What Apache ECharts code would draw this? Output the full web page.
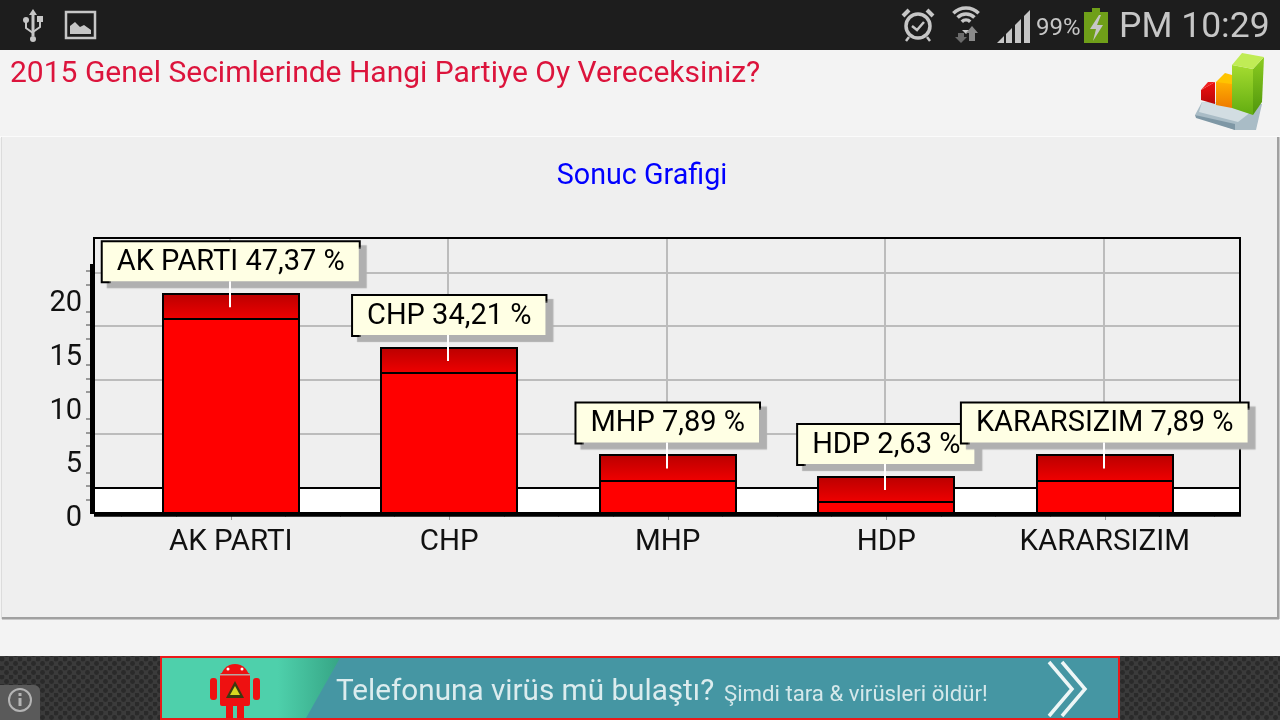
<!DOCTYPE html>
<html><head><meta charset="utf-8">
<style>html,body{margin:0;padding:0;background:#f3f3f3;overflow:hidden}#c{width:1280px;height:720px}</style>
<script src="https://cdn.jsdelivr.net/npm/echarts@6/dist/echarts.min.js"></script>
</head><body><div id="c"></div>
<script>
const categories = ['AK PARTI','CHP','MHP','HDP','KARARSIZIM'];
const votes = [18,13,3,1,3];
const capHeights = [2.35,2.35,2.35,2.35,2.35];
const percentLabels = ['47,37','34,21','7,89','2,63','7,89'];
const yTickLabels = [0,5,10,15,20];
const yMinorTicks = [1.25,2.5,3.75,6.25,7.5,8.75,11.25,12.5,13.75,16.25,17.5,18.75,21.25,22.5];
const xMinorTicks = [-0.5,-0.25,0.25,0.5,0.75,1.25,1.5,1.75,2.25,2.5,2.75,3.25,3.5,3.75,4.25,4.5];
const wallGridValues = [7.35,12.35,17.35,22.35];
const floorTop = 2.33;
const yMax = 25.58;
const FONT = 'Roboto';

const chart = echarts.init(document.getElementById('c'), null, {renderer:'canvas', width:1280, height:720});

const tile = document.createElement('canvas'); tile.width = 9; tile.height = 9;
const tc = tile.getContext('2d');
tc.fillStyle = '#3b3b3b'; tc.fillRect(0,0,9,9);
tc.fillStyle = '#2a2a2a';
tc.beginPath(); tc.arc(2,2,2.4,0,7); tc.fill();
tc.beginPath(); tc.arc(6.5,6.5,2.4,0,7); tc.fill();

const G = '#c6c6c6';
function vgrad(a,b){ return {type:'linear',x:0,y:0,x2:0,y2:1,colorStops:[{offset:0,color:a},{offset:1,color:b}]}; }
function poly(points, fill, z){ return {type:'polygon', shape:{points}, style:{fill}, z:z||-5, silent:true}; }
function rect(x,y,width,height,fill,z){ return {type:'rect', shape:{x,y,width,height}, style:{fill}, z:z||-5, silent:true}; }
function txt(x,y,text,size,fill,extra){ return {type:'text', x, y, z:-4, silent:true, style:Object.assign({text, fill, fontFamily:FONT, fontSize:size, textVerticalAlign:'middle', verticalAlign:'middle'}, extra||{})}; }
function line(points, stroke, w){ return {type:'polyline', shape:{points}, style:{stroke, lineWidth:w, fill:'none'}, z:-4, silent:true}; }
function circle(cx,cy,r,fill,stroke,w){ return {type:'circle', shape:{cx,cy,r}, style:{fill:fill||'none', stroke:stroke||'none', lineWidth:w||0}, z:-4, silent:true}; }
function arc(cx,cy,r,a,b,w,stroke){ return {type:'arc', shape:{cx,cy,r,startAngle:a,endAngle:b}, style:{stroke:stroke||G,lineWidth:w,fill:'none'}, z:-4, silent:true}; }

const graphics = [
  rect(0,0,1280,720,'#f3f3f3',-20),
  rect(0,0,1280,50,'#1d1d1d',-10),
  // panel
  rect(0,136,1280,2,'#fbfbfb',-10),
  rect(1,137,1278,482,'#dcdcdc',-9),
  rect(2,617,1277,2.5,'#a0a0a0',-7),
  rect(1277,137,2.5,482,'#a0a0a0',-7),
  rect(2,137,1275,480,'#efefef',-8),
  // USB icon
  line([[33,14],[33,36]],G,3),
  line([[26,21],[26,28],[33,33]],G,2),
  line([[40,20],[40,27],[33,32]],G,2),
  poly([[33,9],[29,15],[37,15]],G),
  circle(26,20,3,G), rect(37,16,6,6,G), circle(33,39,3,G),
  // image icon
  {type:'rect', shape:{x:66,y:12,width:29,height:26}, style:{fill:'none',stroke:G,lineWidth:2.5}, z:-4, silent:true},
  poly([[70,34],[70,26],[75,22],[80,27],[84,25],[91,30],[91,34]],G),
  // alarm
  circle(918,26,12,'none',G,3.5),
  line([[912,26],[917,30],[924,22]],G,2.5),
  line([[903,16],[909,10]],G,4), line([[933,16],[927,10]],G,4),
  line([[909,37],[906,41]],G,2.5), line([[927,37],[930,41]],G,2.5),
  // wifi
  arc(966,26,18,-2.35,-0.79,3.5), arc(966,26,12,-2.35,-0.79,3.5), arc(966,26,6,-2.35,-0.79,3.5),
  poly([[962,30],[970,30],[966,34]],G),
  rect(958,33,6,6,'#6a6a6a'), poly([[955,37],[967,37],[961,43]],'#6a6a6a'),
  rect(969,32,6,9,'#8a8a8a'), poly([[966,33],[978,33],[972,26]],'#8a8a8a'),
  // signal
  poly([[997,43],[1004,43],[1004,36]],G),
  poly([[1006,34],[1012,28],[1012,43],[1006,43]],G),
  poly([[1015,25],[1021,19],[1021,43],[1015,43]],G),
  poly([[1024,16],[1030,10],[1030,43],[1024,43]],G),
  txt(1036,29,'99%',24,G),
  // battery
  rect(1092,8,8,5,'#6f9f19'), rect(1084,12,24,31,'#6f9f19'),
  poly([[1099,15],[1090,29],[1096,29],[1093,41],[1103,25],[1097,25],[1101,15]],G),
  txt(1119,28,'PM 10:29',35.5,G),
  // header
  txt(10,74,'2015 Genel Secimlerinde Hangi Partiye Oy Vereceksiniz?',30,'#dc143c'),
  // app icon
  poly([[1202,102],[1262,104],[1256,130],[1235,130],[1195,115]],'#a9bcc6'),
  poly([[1195,115],[1235,124],[1235,130],[1196,118]],'#7e97a5'),
  poly([[1202,102],[1260,105],[1238,122],[1199,112]],'#d2dde2'),
  poly([[1201,90],[1215,82],[1215,104],[1201,100]],vgrad('#f01010','#b80808')),
  poly([[1201,90],[1208,82],[1215,82]],'#f02020'),
  poly([[1216,82],[1232,82],[1232,108],[1216,105]],vgrad('#ffb000','#ee7a00')),
  poly([[1216,82],[1225,73],[1232,75],[1232,84]],'#ffc400'),
  poly([[1232,65],[1253,69],[1253,115],[1232,108]],vgrad('#a5dc30','#62ac10')),
  poly([[1253,69],[1264,57],[1262,102],[1253,115]],vgrad('#8ccc20','#4f960c')),
  poly([[1232,65],[1242,53],[1264,57],[1253,69]],'#c0ec55'),
  // bottom bar
  {type:'rect', shape:{x:0,y:656,width:1280,height:64}, style:{fill:{image:tile, repeat:'repeat'}}, z:-10, silent:true},
  {type:'rect', shape:{x:-8,y:685,width:48,height:43,r:6}, style:{fill:'#5a5a5a'}, z:-5, silent:true},
  circle(20,700,11,'none','#b4b4b4',2),
  rect(18.5,698,3,8,'#b4b4b4'), rect(18.5,693,3,3,'#b4b4b4'),
  // banner
  rect(160,656,960,64,'#ea1a1a',-6),
  rect(162,658,956,60,'#4596a3',-5),
  {type:'polygon', shape:{points:[[162,658],[340,658],[306,718],[162,718]]}, z:-5, silent:true,
    style:{fill:{type:'linear',x:0,y:0,x2:1,y2:0,colorStops:[{offset:0,color:'#4ed0ab'},{offset:.65,color:'#4ed0ab'},{offset:1,color:'#36a585'}]}}},
  // robot
  {type:'rect', shape:{x:220,y:673,width:30,height:33,r:2}, style:{fill:'#ee1111'}, z:-4, silent:true},
  {type:'arc', shape:{cx:235,cy:678,r:14,startAngle:Math.PI,endAngle:0}, style:{fill:'#ee1111',stroke:'none'}, z:-4, silent:true},
  {type:'rect', shape:{x:210,y:678,width:7,height:22,r:3}, style:{fill:'#ee1111'}, z:-4, silent:true},
  {type:'rect', shape:{x:253,y:678,width:7,height:22,r:3}, style:{fill:'#ee1111'}, z:-4, silent:true},
  rect(226,705,7,13,'#ee1111',-4), rect(237,705,7,13,'#ee1111',-4),
  rect(220,674,30,1.5,'#b9a6a0',-3),
  circle(228,669,1.5,'#ffffff'), circle(242,669,1.5,'#ffffff'),
  poly([[235,681],[226,698],[244,698]],'#3a3a10',-3),
  poly([[235,686],[230,695],[240,695]],'#d8d820',-3),
  txt(336,693,'Telefonuna virüs mü bulaştı?',29.7,'#dcecee',{shadowColor:'#dcecee',shadowBlur:2}),
  txt(724,695,'Şimdi tara & virüsleri öldür!',22.2,'#d5e8ea',{shadowColor:'#d5e8ea',shadowBlur:2}),
  line([[1049,662],[1072,689],[1049,716]],'#eef6f6',3.5),
  line([[1062,662],[1085,689],[1062,716]],'#eef6f6',3.5),
  // thick value-axis bar
  rect(90,264,4,250,'#000',1)
];

const NUDGE = -1;
function vGrid(params, api){
  const a = api.coord([api.value(0), floorTop]), b = api.coord([api.value(0), yMax]);
  const x = Math.round(a[0]) + NUDGE;
  return {type:'line', shape:{x1:x,y1:a[1],x2:x,y2:b[1]}, style:{stroke:'#bcbcbc',lineWidth:2}};
}
function hGrid(params, api){
  const a = api.coord([0, api.value(1)]), b = api.coord([1, api.value(1)]);
  return {type:'line', shape:{x1:a[0],y1:Math.round(a[1]),x2:b[0],y2:Math.round(a[1])}, style:{stroke:'#bcbcbc',lineWidth:2}};
}
function floorBand(params, api){
  const a = api.coord([0, api.value(1)]), b = api.coord([1, 0]);
  return {type:'rect', shape:{x:a[0],y:Math.round(a[1]),width:b[0]-a[0],height:b[1]-Math.round(a[1])}, style:{fill:'#fff',stroke:'#000',lineWidth:2}};
}
function frame(params, api){
  const a = api.coord([0, yMax]), b = api.coord([1, 0]);
  return {type:'group', children:[
    {type:'rect', shape:{x:a[0],y:a[1],width:b[0]-a[0],height:b[1]-a[1]}, style:{fill:'none',stroke:'#000',lineWidth:2}},
    {type:'line', shape:{x1:a[0],y1:b[1]+2,x2:b[0]+1,y2:b[1]+2}, style:{stroke:'#000',lineWidth:3.5}}
  ]};
}
function leader(params, api){
  const p = api.coord([api.value(0), api.value(1)]);
  const x = Math.round(p[0]) + NUDGE;
  return {type:'line', shape:{x1:x,y1:p[1]-13,x2:x,y2:p[1]+13}, style:{stroke:'#fff',lineWidth:2}};
}
function outline(params, api){
  const i = api.value(0);
  const top = api.coord([i, api.value(1)]), mid = api.coord([i, api.value(2)]), base = api.coord([i, 0]);
  const x1 = Math.round(top[0]) - 68, x2 = Math.round(top[0]) + 68;
  const yT = Math.round(top[1]), yM = Math.round(mid[1]), yB = Math.round(base[1]);
  return {type:'group', children:[
    {type:'rect', shape:{x:x1,y:yT,width:x2-x1,height:yB-yT}, style:{fill:'none',stroke:'#000',lineWidth:2}},
    {type:'line', shape:{x1:x1,y1:yM,x2:x2,y2:yM}, style:{stroke:'#000',lineWidth:2}}
  ]};
}
const barTops = votes.map((v,i)=>[i, v+capHeights[i]]);
const barOutlines = votes.map((v,i)=>[i, v+capHeights[i], v]);

chart.setOption({
  animation:false,
  backgroundColor:'#f3f3f3',
  graphic:{elements:graphics},
  title:{text:'Sonuc Grafigi', left:637, top:157, textAlign:'center',
    textStyle:{color:'#0000ff', fontFamily:FONT, fontSize:28.7, fontWeight:'normal'}},
  grid:[
    {left:94, top:238, width:1146, height:275, containLabel:false},
    {left:121.5, top:238, width:1092.5, height:275, containLabel:false}
  ],
  xAxis:[
    {type:'value', gridIndex:0, min:0, max:1, show:false},
    {type:'category', gridIndex:1, data:categories,
      axisLine:{show:false}, splitLine:{show:false},
      axisTick:{show:true, alignWithLabel:true, length:7, lineStyle:{color:'#999',width:1}},
      axisLabel:{color:'#111', fontFamily:FONT, fontSize:29.5, margin:15, interval:0}},
    {type:'value', gridIndex:1, min:-0.5, max:4.5, position:'bottom',
      axisLine:{show:false}, splitLine:{show:false}, axisLabel:{show:false},
      axisTick:{show:true, length:4, customValues:xMinorTicks, lineStyle:{color:'#999',width:1}}}
  ],
  yAxis:[
    {type:'value', gridIndex:0, min:0, max:yMax, show:false},
    {type:'value', gridIndex:1, min:0, max:yMax, position:'left', offset:31.5,
      axisLine:{show:false}, splitLine:{show:false},
      axisTick:{show:true, length:8, customValues:yTickLabels, lineStyle:{color:'#9a9a9a',width:1}},
      axisLabel:{customValues:yTickLabels, color:'#111', fontFamily:FONT, fontSize:29, margin:8, verticalAlign:'top', lineHeight:12}},
    {type:'value', gridIndex:1, min:0, max:yMax, position:'left', offset:31.5,
      axisLine:{show:false}, splitLine:{show:false}, axisLabel:{show:false},
      axisTick:{show:true, length:4, customValues:yMinorTicks, lineStyle:{color:'#9a9a9a',width:2}}}
  ],
  series:[
    {name:'wallGrid', type:'custom', xAxisIndex:0, yAxisIndex:0, z:1, silent:true, clip:false,
      data:wallGridValues.map(v=>[0,v]), renderItem:hGrid},
    {name:'catGrid', type:'custom', xAxisIndex:2, yAxisIndex:2, z:1, silent:true, clip:false,
      data:categories.map((c,i)=>[i,0]), renderItem:vGrid},
    {name:'floor', type:'custom', xAxisIndex:0, yAxisIndex:0, z:1, silent:true, clip:false,
      data:[[0,floorTop]], renderItem:floorBand},
    {name:'frame', type:'custom', xAxisIndex:0, yAxisIndex:0, z:1, silent:true, clip:false,
      data:[[0,0]], renderItem:frame},
    {name:'Oy', type:'bar', xAxisIndex:1, yAxisIndex:1, stack:'v', barWidth:136, z:2, silent:true,
      itemStyle:{color:'#ff0000'},
      data:votes},
    {name:'Kapak', type:'bar', xAxisIndex:1, yAxisIndex:1, stack:'v', barWidth:136, z:3, silent:true,
      itemStyle:{color:{type:'linear',x:0,y:0,x2:0,y2:1,colorStops:[{offset:0,color:'#bb0000'},{offset:1,color:'#f00000'}]}},
      label:{show:true, position:'top', distance:13, color:'#000', fontFamily:FONT, fontSize:29,
        backgroundColor:'#ffffe4', borderColor:'#000', borderWidth:2, padding:[6,14,4,14], lineHeight:29,
        shadowColor:'#b0b0b0', shadowBlur:1, shadowOffsetX:6, shadowOffsetY:5,
        formatter:(p)=>categories[p.dataIndex]+' '+percentLabels[p.dataIndex]+' %'},
      data:capHeights},
    {name:'barOutline', type:'custom', xAxisIndex:2, yAxisIndex:2, z:4, silent:true, clip:false,
      data:barOutlines, renderItem:outline},
    {name:'leader', type:'custom', xAxisIndex:2, yAxisIndex:2, z:5, silent:true, clip:false,
      data:barTops, renderItem:leader}
  ]
});
</script></body></html>
